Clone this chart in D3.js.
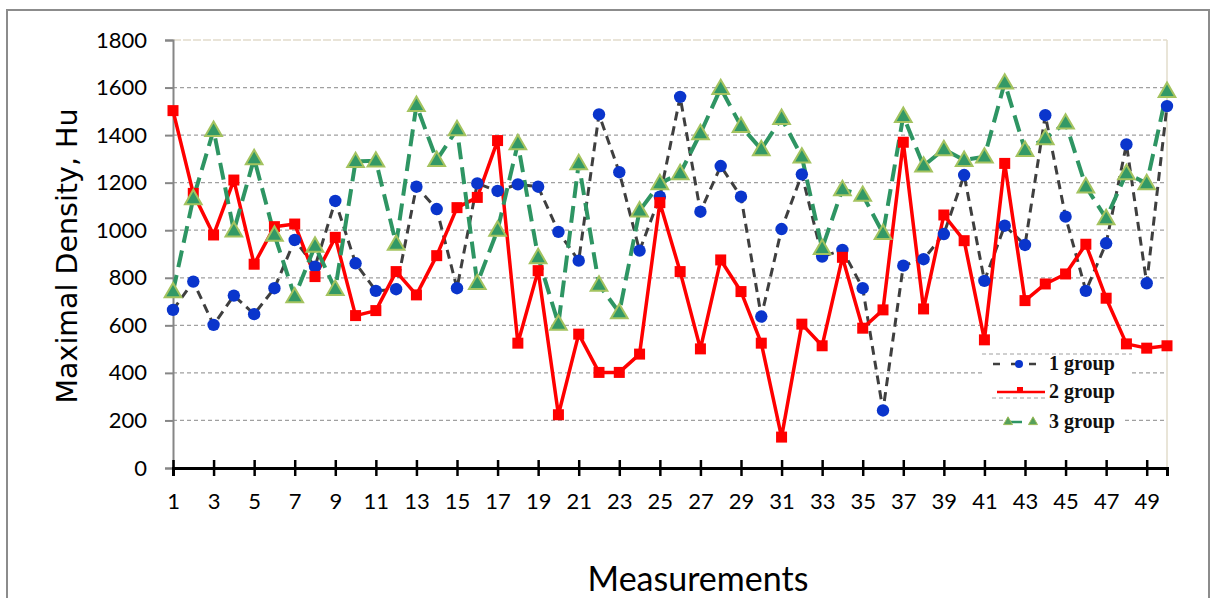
<!DOCTYPE html>
<html><head><meta charset="utf-8">
<script src="https://cdn.jsdelivr.net/npm/d3@7"></script>
<style>body{margin:0;background:#fff}svg{display:block}</style>
</head><body>
<script>
const measurements = d3.range(1, 51);
const group1 = [665,784,602,725,647,756,959,847,1123,861,745,752,1183,1089,756,1197,1165,1193,1183,993,872,1487,1244,914,1141,1561,1078,1270,1141,637,1005,1235,889,917,756,242,851,878,984,1232,787,1019,938,1484,1057,745,945,1361,777,1522];
const group2 = [1503,1155,980,1211,857,1015,1026,805,970,641,662,826,728,893,1095,1138,1377,525,830,224,563,402,402,479,1116,826,501,875,742,525,130,605,514,886,588,665,1370,669,1064,956,539,1281,704,774,816,941,714,522,504,514];
const group3 = [742,1134,1421,998,1302,980,721,934,752,1290,1292,942,1526,1295,1424,777,1001,1365,886,606,1281,770,654,1082,1197,1239,1407,1597,1438,1340,1471,1309,924,1172,1148,987,1480,1271,1340,1295,1309,1620,1337,1386,1452,1183,1050,1239,1197,1585];
const yTicks = [0,200,400,600,800,1000,1200,1400,1600,1800];
const xTicks = d3.range(1, 51, 2);
const seriesNames = ["1 group","2 group","3 group"];

const W = 1210, H = 598;
const svg = d3.select("body").append("svg").attr("width", W).attr("height", H);

// outer frame
svg.append("path").attr("d", `M7,${H} V10 H1209 V${H}`).attr("fill","none").attr("stroke","#8c8c8c").attr("stroke-width",2);

const x = d3.scaleLinear().domain([1, 50]).range([173, 1167]);
const y = d3.scaleLinear().domain([0, 1800]).range([468, 40]);

// gridlines
svg.append("g").selectAll("line").data(yTicks.filter(d => d > 0 && d < 1800)).join("line")
  .attr("x1", 173).attr("x2", 1167).attr("y1", d => y(d)).attr("y2", d => y(d))
  .attr("stroke", "#a0a0a0").attr("stroke-width", 1.3).attr("stroke-dasharray", "4,3");
svg.append("line").attr("x1",173).attr("x2",1167).attr("y1",y(1800)).attr("y2",y(1800))
  .attr("stroke","#e2dccb").attr("stroke-width",1.5).attr("stroke-dasharray","8,2");
svg.append("line").attr("x1",1167).attr("x2",1167).attr("y1",y(1800)).attr("y2",y(0))
  .attr("stroke","#e2dccb").attr("stroke-width",1.5);

const tickFont = "Lato, 'Open Sans', sans-serif";
// y axis
const yAxis = svg.append("g").attr("transform","translate(173,0)")
  .call(d3.axisLeft(y).tickValues(yTicks).tickFormat(d3.format("d")).tickSize(8).tickPadding(18));
yAxis.select(".domain").attr("stroke","#868686").attr("stroke-width",2);
yAxis.selectAll(".tick line").attr("stroke","#868686").attr("stroke-width",2);
yAxis.selectAll("text").attr("font-family",tickFont).attr("font-size",22).attr("fill","#000");

// x axis
const xAxis = svg.append("g").attr("transform",`translate(0,${y(0)})`)
  .call(d3.axisBottom(x).tickValues(xTicks).tickFormat(d3.format("d")).tickSizeOuter(0).tickSize(8).tickPadding(17));
xAxis.select(".domain").attr("stroke","#000").attr("stroke-width",3);
xAxis.selectAll(".tick line").attr("stroke","#000").attr("stroke-width",2.5).attr("y1",-8).attr("y2",8);
xAxis.selectAll("text").attr("font-family",tickFont).attr("font-size",22).attr("fill","#000");

// titles
svg.append("text").attr("transform","translate(77,256) rotate(-90)").attr("text-anchor","middle")
  .attr("font-family","'DejaVu Sans', Verdana, sans-serif").attr("font-size",28.5).text("Maximal Density, Hu");
svg.append("text").attr("x",698).attr("y",591).attr("text-anchor","middle")
  .attr("font-family",tickFont).attr("font-size",34).text("Measurements");

const line = d3.line().x((d,i) => x(measurements[i])).y(d => y(d));

svg.append("path").datum(group1).attr("d", line).attr("fill","none")
  .attr("stroke","#3f3f3f").attr("stroke-width",3).attr("stroke-dasharray","9,6");
svg.append("path").datum(group2).attr("d", line).attr("fill","none")
  .attr("stroke","#ff0000").attr("stroke-width",3.5).attr("stroke-linejoin","round");
svg.append("path").datum(group3).attr("d", line).attr("fill","none")
  .attr("stroke","#2e9563").attr("stroke-width",4).attr("stroke-dasharray","17,8");

svg.append("g").selectAll("circle").data(group1).join("circle")
  .attr("cx",(d,i)=>x(measurements[i])).attr("cy",d=>y(d)).attr("r",6.2).attr("fill","#0a35cc");
svg.append("g").selectAll("rect").data(group2).join("rect")
  .attr("x",(d,i)=>x(measurements[i])-5.5).attr("y",d=>y(d)-5.5).attr("width",11).attr("height",11).attr("fill","#ff0000");
const tri = d3.symbol().type(d3.symbolTriangle).size(120);
svg.append("g").selectAll("path").data(group3).join("path")
  .attr("transform",(d,i)=>`translate(${x(measurements[i])},${y(d)+1})`).attr("d", tri)
  .attr("fill","#339966").attr("stroke","#a4c35f").attr("stroke-width",2);

// legend
const lg = svg.append("g");
lg.append("rect").attr("x",982).attr("y",355).attr("width",150).attr("height",55).attr("fill","#fff");
lg.append("rect").attr("x",1003).attr("y",405).attr("width",122).attr("height",32).attr("fill","#fff");
lg.append("line").attr("x1",982).attr("x2",1132).attr("y1",354).attr("y2",354).attr("stroke","#a0a0a0").attr("stroke-width",1.2).attr("stroke-dasharray","4,3");
lg.append("line").attr("x1",992).attr("x2",1045).attr("y1",398).attr("y2",398).attr("stroke","#a0a0a0").attr("stroke-width",1.2).attr("stroke-dasharray","4,3");
const rows = [364, 392, 422];
lg.append("line").attr("x1",993).attr("x2",1046).attr("y1",rows[0]).attr("y2",rows[0]).attr("stroke","#3f3f3f").attr("stroke-width",2.5).attr("stroke-dasharray","7,11");
lg.append("circle").attr("cx",1019).attr("cy",rows[0]).attr("r",4).attr("fill","#0a35cc");
lg.append("line").attr("x1",997).attr("x2",1045).attr("y1",rows[1]).attr("y2",rows[1]).attr("stroke","#ff0000").attr("stroke-width",2.5);
lg.append("rect").attr("x",1017).attr("y",rows[1]-5).attr("width",6).attr("height",6).attr("fill","#ff0000");
lg.append("line").attr("x1",1007).attr("x2",1022).attr("y1",rows[2]).attr("y2",rows[2]).attr("stroke","#2e9563").attr("stroke-width",2.5);
const tri2 = d3.symbol().type(d3.symbolTriangle).size(35);
[1008,1033].forEach(cx => lg.append("path").attr("transform",`translate(${cx},${rows[2]})`).attr("d",tri2).attr("fill","#55a05a").attr("stroke","#9bbb59").attr("stroke-width",1));
seriesNames.forEach((n,i) => lg.append("text").attr("x",1049).attr("y",rows[i]+6)
  .attr("font-family","'Liberation Serif', serif").attr("font-weight","bold").attr("font-size",20).attr("fill","#111").text(n));
</script>
</body></html>
